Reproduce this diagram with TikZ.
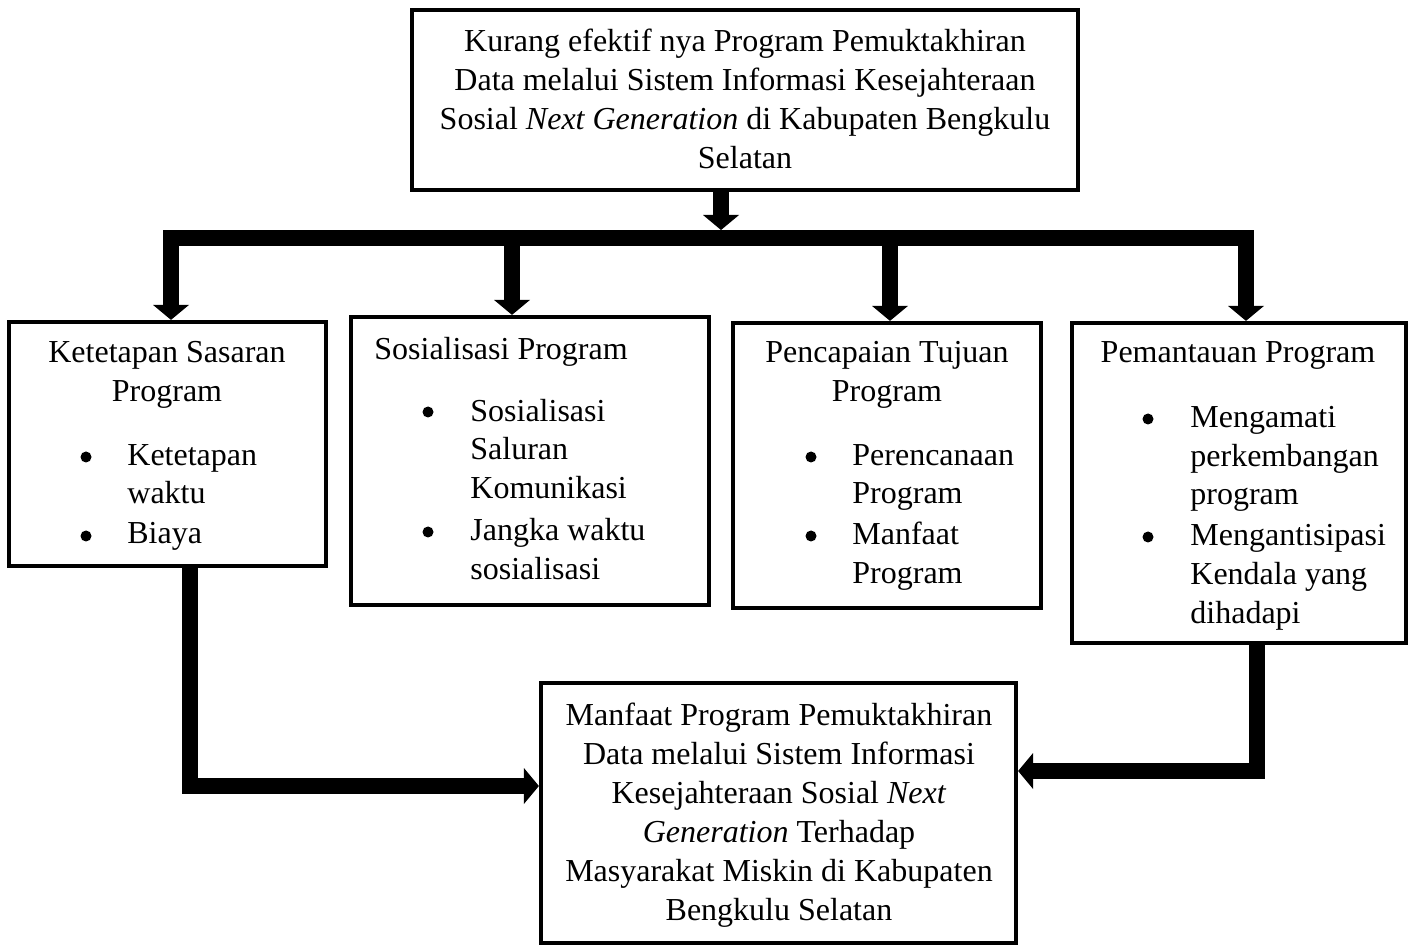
\documentclass[tikz,border=0pt]{standalone}
\usepackage{fontspec}
\setmainfont{Liberation Serif}
\usetikzlibrary{arrows.meta,fit}
\begin{document}
\begin{tikzpicture}[x=0.5pt,y=-0.5pt,
  box/.style={draw, line width=2.1pt, inner sep=0pt},
  txt/.style={inner sep=0pt, font=\fontsize{16}{19.5}\selectfont, align=center, anchor=base},
  ltxt/.style={inner sep=0pt, font=\fontsize{16}{19.5}\selectfont, align=left, anchor=base west},
  bul/.style={circle, fill=black, inner sep=0pt, minimum size=5.5pt},
  conn/.style={line width=8pt, line join=miter, -{Triangle[width=18pt,length=7.5pt,line width=0pt]}},
]
\useasboundingbox (0,0) rectangle (1414,946);

% boxes
\node[box, fit={(412,10) (1078,190)}] (top) {};
\node[box, fit={(9,322) (326,566)}] (b1) {};
\node[box, fit={(351,317) (709,605)}] (b2) {};
\node[box, fit={(733,323) (1041,608)}] (b3) {};
\node[box, fit={(1072,323) (1406,643)}] (b4) {};
\node[box, fit={(541,683) (1016,943)}] (bot) {};

% texts (anchor = baseline of the last line)
\node[txt] (toptext) at (745,169) {Kurang efektif nya Program Pemuktakhiran\\Data melalui Sistem Informasi Kesejahteraan\\Sosial \textit{Next Generation} di Kabupaten Bengkulu\\Selatan};

\node[txt] (t1) at (167,402) {Ketetapan Sasaran\\Program};
\node[bul] (t1b1) at (86,457) {};
\node[ltxt] (t1i1) at (127,504) {Ketetapan\\waktu};
\node[bul] (t1b2) at (86,536) {};
\node[ltxt] (t1i2) at (127,544) {Biaya};

\node[ltxt] (t2) at (374,360) {Sosialisasi Program};
\node[bul] (t2b1) at (428,412) {};
\node[ltxt] (t2i1) at (470,499) {Sosialisasi\\Saluran\\Komunikasi};
\node[bul] (t2b2) at (428,532) {};
\node[ltxt] (t2i2) at (470,579) {Jangka waktu\\sosialisasi};

\node[txt] (t3) at (887,402) {Pencapaian Tujuan\\Program};
\node[bul] (t3b1) at (811,457) {};
\node[ltxt] (t3i1) at (852,504) {Perencanaan\\Program};
\node[bul] (t3b2) at (811,536) {};
\node[ltxt] (t3i2) at (852,583) {Manfaat\\Program};

\node[txt] (t4) at (1238,363) {Pemantauan Program};
\node[bul] (t4b1) at (1148,419) {};
\node[ltxt] (t4i1) at (1190,505) {Mengamati\\perkembangan\\program};
\node[bul] (t4b2) at (1148,537) {};
\node[ltxt] (t4i2) at (1190,623) {Mengantisipasi\\Kendala yang\\dihadapi};

\node[txt] (bottext) at (779,920) {Manfaat Program Pemuktakhiran\\Data melalui Sistem Informasi\\Kesejahteraan Sosial \textit{Next}\\\textit{Generation} Terhadap\\Masyarakat Miskin di Kabupaten\\Bengkulu Selatan};

% connectors
\coordinate (hub) at (721,238);
\coordinate (hubtop) at (721,230);
\coordinate (x1) at (171,0);
\coordinate (x2) at (512,0);
\coordinate (x3) at (890,0);
\coordinate (x4) at (1246,0);
\coordinate (lx) at (190,786);
\coordinate (rx) at (1257,771);

\draw[conn] (top.south -| hubtop) -- (hubtop);
\draw[conn] (hub) -| (b1.north -| x1);
\draw[conn] (hub) -| (b4.north -| x4);
\draw[conn] (hub -| x2) -- (b2.north -| x2);
\draw[conn] (hub -| x3) -- (b3.north -| x3);

\draw[conn] (b1.south -| lx) |- (bot.west |- lx);
\draw[conn] (b4.south -| rx) |- (bot.east |- rx);
\end{tikzpicture}
\end{document}
